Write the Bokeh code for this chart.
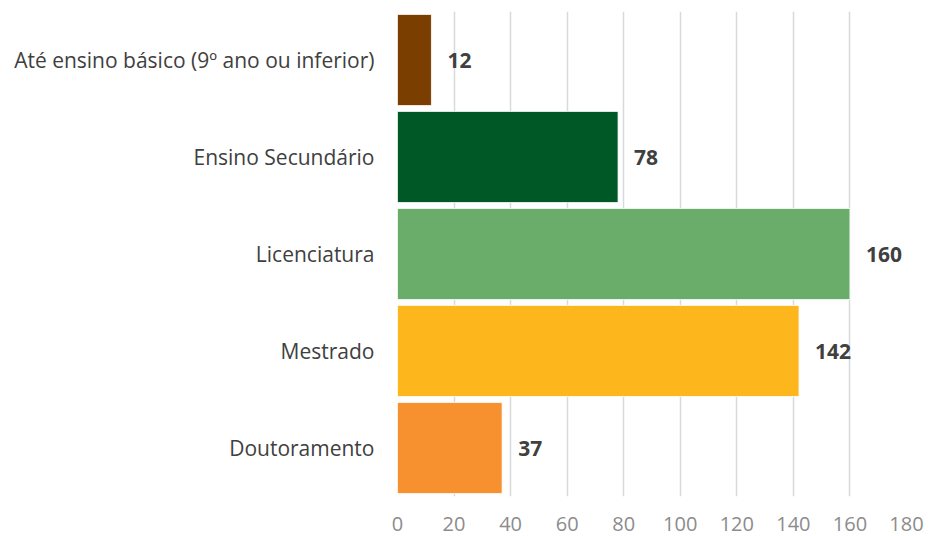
from bokeh.plotting import figure
from bokeh.models import ColumnDataSource, FactorRange, Range1d, FixedTicker
from bokeh.core.properties import value
from bokeh.embed import file_html
from bokeh.resources import INLINE

categories = ["Até ensino básico (9º ano ou inferior)", "Ensino Secundário",
              "Licenciatura", "Mestrado", "Doutoramento"]
counts = [12, 78, 160, 142, 37]
colors = ["#7A3E00", "#005826", "#6AAD6A", "#FDB71C", "#F7902F"]
x_ticks = [0, 20, 40, 60, 80, 100, 120, 140, 160, 180]

src = ColumnDataSource(dict(cat=categories, val=counts, color=colors,
                            lab=[str(v) for v in counts]))

FONT = "Open Sans"

p = figure(width=929, height=536, output_backend="svg", toolbar_location=None,
           y_range=FactorRange(*reversed(categories), range_padding=0),
           x_range=Range1d(0, 180),
           min_border_left=397, min_border_right=23,
           min_border_top=11, min_border_bottom=40)
p.outline_line_color = None
p.background_fill_color = "white"

p.hbar(y="cat", right="val", left=0, height=0.94, source=src,
       fill_color="color", line_color="white", line_width=0.8)

p.text(x="val", y="cat", text="lab", source=src, x_offset=16,
       text_baseline="middle", text_align="left",
       text_font=value(FONT), text_font_size="21px", text_font_style="bold",
       text_color="#404040")

p.xaxis.ticker = FixedTicker(ticks=x_ticks)
p.xaxis.axis_line_color = None
p.xaxis.major_tick_line_color = None
p.xaxis.minor_tick_line_color = None
p.xaxis.major_label_text_font = FONT
p.xaxis.major_label_text_font_size = "20px"
p.xaxis.major_label_text_color = "#8C8C8C"
p.xaxis.major_label_standoff = 14

p.yaxis.axis_line_color = None
p.yaxis.major_tick_line_color = None
p.yaxis.minor_tick_line_color = None
p.yaxis.major_label_text_font = FONT
p.yaxis.major_label_text_font_size = "21px"
p.yaxis.major_label_text_color = "#404040"
p.yaxis.major_label_standoff = 17

p.xgrid.ticker = FixedTicker(ticks=x_ticks)
p.xgrid.grid_line_color = "#D9D9D9"
p.xgrid.grid_line_width = 1.5
p.ygrid.grid_line_color = None

open("out.html", "w").write(file_html(p, INLINE))
